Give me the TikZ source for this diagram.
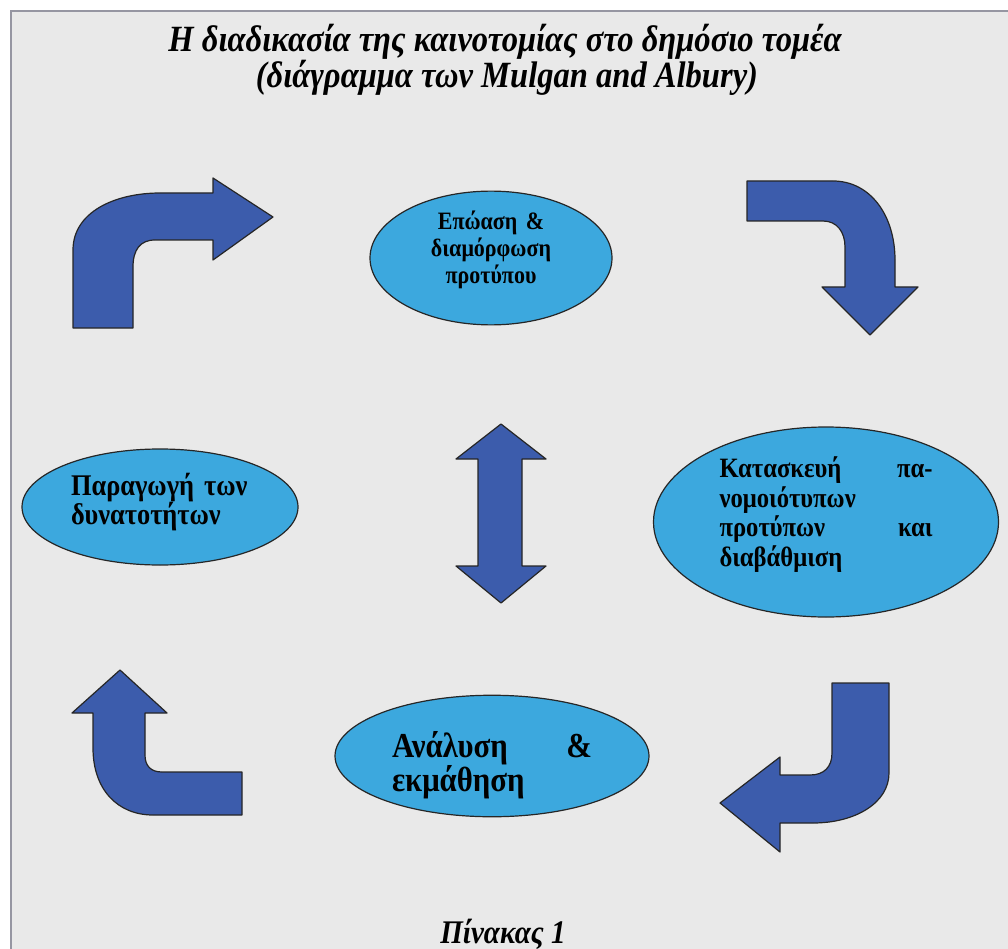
\documentclass[tikz,border=0pt]{standalone}
\usepackage{fontspec}
\setmainfont{Liberation Serif}[FakeStretch=0.88]
\usetikzlibrary{shapes.geometric}
\definecolor{panel}{RGB}{233,233,233}
\definecolor{frameline}{RGB}{150,150,162}
\definecolor{bubble}{RGB}{60,168,222}
\definecolor{arrowblue}{RGB}{60,92,172}

\begin{document}
\begin{tikzpicture}[x=1pt, y=-1pt,
    stage/.style={ellipse, draw=black!85, line width=1.2pt, fill=bubble, inner sep=0pt},
    bigarrow/.style={fill=arrowblue, draw=black!85, line width=1.2pt, line join=round},
    heading/.style={font=\bfseries\itshape\fontsize{37}{40}\selectfont, anchor=base}]
  \useasboundingbox (0,0) rectangle (1008,949);
  \fill[panel] (11,11) rectangle (1008,949);
  \draw[frameline, line width=2pt] (11,949) -- (11,11) -- (1008,11);
  % titles
  \node[heading] (title) at (505,52) {Η διαδικασία της καινοτομίας στο δημόσιο τομέα};
  \node[heading] (subtitle) at (507,88) {(διάγραμμα των Mulgan and Albury)};
  \node[heading, font=\bfseries\itshape\fontsize{33}{36}\selectfont] (caption) at (503,943) {Πίνακας 1};
  % stages of the cycle
  \node[stage, minimum width=242, minimum height=128, text width=140, align=center,
        text depth=76pt, font=\bfseries\fontsize{25}{27}\selectfont] (incub) at (491,258)
        {Επώαση \&\\ διαμόρφωση\\ προτύπου};
  \node[stage, minimum width=345, minimum height=190, text width=213, align=justify,
        text depth=109pt, font=\bfseries\fontsize{28}{29.5}\selectfont] (scale) at (826,522)
        {Κατασκευή\hfill πα-\\ νομοιότυπων\\ προτύπων\hfill και\\ διαβάθμιση};
  \node[stage, minimum width=314, minimum height=120, text width=200, align=justify,
        text height=44pt, font=\bfseries\fontsize{35}{33}\selectfont] (learn) at (492,756)
        {Ανάλυση\hfill \&\\ εκμάθηση};
  \node[stage, minimum width=276, minimum height=116, text width=178, align=left,
        text depth=46pt, font=\bfseries\fontsize{30}{29}\selectfont] (gen) at (160,507)
        {Παραγωγή των\\ δυνατοτήτων};
  % bent arrows
  \draw[bigarrow] (73,328) -- (73,250) .. controls (73,212) and (115,193) .. (160,193)
    -- (213,193) -- (213,178) -- (273,217) -- (213,260) -- (213,240) -- (155,240)
    .. controls (140,240) and (133,250) .. (133,267) -- (133,328) -- cycle;
  \draw[bigarrow] (747,181) -- (833,181) .. controls (870,181) and (895,215) .. (895,260)
    -- (895,287) -- (918,287) -- (870,335) -- (822,287) -- (845,287) -- (845,247)
    .. controls (845,232) and (837,221) .. (823,221) -- (747,221) -- cycle;
  \draw[bigarrow] (832,683) -- (889,683) -- (889,773) .. controls (889,803) and (855,823) .. (813,823)
    -- (780,823) -- (780,852) -- (720,803) -- (780,757) -- (780,775) -- (810,775)
    .. controls (824,775) and (832,767) .. (832,753) -- cycle;
  \draw[bigarrow] (120,670) -- (167,713) -- (145,713) -- (145,755)
    .. controls (145,766) and (151,772) .. (162,772) -- (242,772) -- (242,815) -- (153,815)
    .. controls (118,815) and (93,790) .. (93,748) -- (93,713) -- (72,713) -- cycle;
  % two-way arrow in the middle
  \draw[bigarrow] (501,424) -- (546,459) -- (522,459) -- (522,566) -- (546,566) -- (501,603)
    -- (456,566) -- (478,566) -- (478,459) -- (456,459) -- cycle;
\end{tikzpicture}
\end{document}
